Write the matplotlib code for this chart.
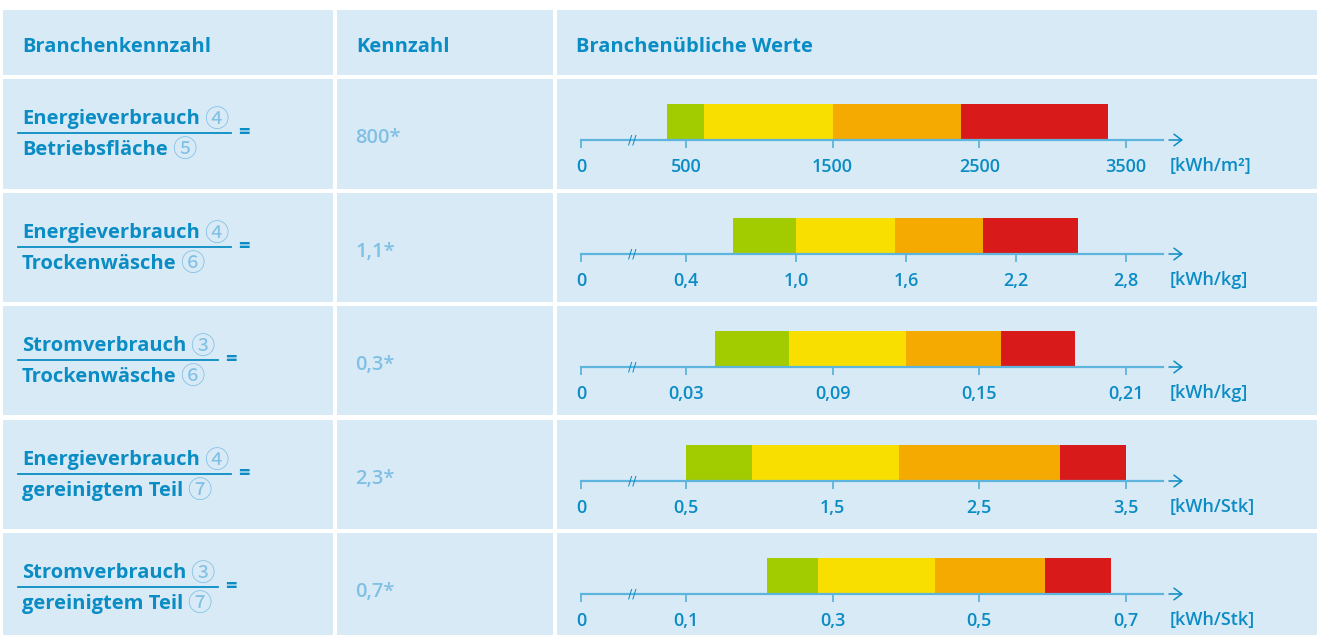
import matplotlib
matplotlib.use("Agg")
import matplotlib.pyplot as plt
from matplotlib.patches import Rectangle

plt.rcParams['font.family'] = ['Open Sans', 'DejaVu Sans']

# --- data -------------------------------------------------------------
headers = ["Branchenkennzahl", "Kennzahl", "Branchenübliche Werte"]
numerators = ["Energieverbrauch", "Energieverbrauch", "Stromverbrauch",
              "Energieverbrauch", "Stromverbrauch"]
numerator_refs = ["④", "④", "③", "④", "③"]
denominators = ["Betriebsfläche", "Trockenwäsche", "Trockenwäsche",
                "gereinigtem Teil", "gereinigtem Teil"]
denominator_refs = ["⑤", "⑥", "⑥", "⑦", "⑦"]
kennzahlen = ["800*", "1,1*", "0,3*", "2,3*", "0,7*"]
units = ["[kWh/m²]", "[kWh/kg]", "[kWh/kg]", "[kWh/Stk]", "[kWh/Stk]"]

tick_values = [
    [500, 1500, 2500, 3500],
    [0.4, 1.0, 1.6, 2.2, 2.8],
    [0.03, 0.09, 0.15, 0.21],
    [0.5, 1.5, 2.5, 3.5],
    [0.1, 0.3, 0.5, 0.7],
]
tick_labels = [
    ["500", "1500", "2500", "3500"],
    ["0,4", "1,0", "1,6", "2,2", "2,8"],
    ["0,03", "0,09", "0,15", "0,21"],
    ["0,5", "1,5", "2,5", "3,5"],
    ["0,1", "0,3", "0,5", "0,7"],
]
# band edges: start, end green, end yellow, end orange, end red
bands = [
    [370, 620, 1500, 2375, 3380],
    [0.655, 1.0, 1.54, 2.02, 2.54],
    [0.042, 0.072, 0.12, 0.159, 0.189],
    [0.5, 0.95, 1.95, 3.05, 3.5],
    [0.21, 0.28, 0.44, 0.59, 0.68],
]
band_colors = ["#a2cb00", "#f9df00", "#f4aa00", "#d91a1a"]

# --- style ------------------------------------------------------------
W, H = 1317, 635
cell_bg = "#d9eaf7"
blue = "#0a8cc4"
light = "#80c0e4"
axis_col = "#5db4dc"
fs = 14.5
circ_font = ["Noto Sans CJK JP", "DejaVu Sans"]

cols = [(3, 333), (337, 553), (557, 1317)]
header_y = (10, 75)
row_tops = [79, 193, 306, 420, 533]
row_bottoms = [189, 302, 415, 529, 635]

fig = plt.figure(figsize=(W / 100, H / 100), dpi=100)
fig.patch.set_facecolor("white")
base = fig.add_axes([0, 0, 1, 1])
base.set_xlim(0, W)
base.set_ylim(H, 0)
base.axis("off")

# cells
for y0, y1 in [header_y] + list(zip(row_tops, row_bottoms)):
    for x0, x1 in cols:
        base.add_patch(Rectangle((x0, y0), x1 - x0, y1 - y0, color=cell_bg, lw=0))

# header
for (x0, _), h in zip(cols, headers):
    base.text(x0 + 19, 52, h, fontsize=fs, fontweight="bold", color=blue,
              va="baseline")

renderer = fig.canvas.get_renderer()

for r, top in enumerate(row_tops):
    t1 = base.text(22, top + 45, numerators[r], fontsize=fs, fontweight="bold",
                   color=blue, va="baseline")
    t2 = base.text(22, top + 76, denominators[r], fontsize=fs, fontweight="bold",
                   color=blue, va="baseline")
    e1 = t1.get_window_extent(renderer).x1
    e2 = t2.get_window_extent(renderer).x1
    c1 = base.text(e1 + 4, top + 41, numerator_refs[r], fontsize=17.5, color=light,
                   va="center", family=circ_font)
    c2 = base.text(e2 + 4, top + 71, denominator_refs[r], fontsize=17.5, color=light,
                   va="center", family=circ_font)
    end = max(c1.get_window_extent(renderer).x1, c2.get_window_extent(renderer).x1)
    base.plot([18, end + 3], [top + 54, top + 54], color=blue, lw=1.3)
    base.text(end + 10, top + 54, "=", fontsize=fs, fontweight="bold", color=blue,
              va="center")
    base.text(355, top + 64, kennzahlen[r], fontsize=fs, fontweight="semibold",
              color=light, va="baseline")

    # bar chart in third column
    ax = fig.add_axes([557 / W, 1 - (top + 61) / H, 760 / W, 61 / H])
    ax.patch.set_alpha(0)
    tv = tick_values[r]
    first, last = tv[0], tv[-1]
    s = (last - first) / 440.0
    ax.set_xlim(first - 129 * s, last + 191 * s)
    ax.set_ylim(61, 0)
    b = bands[r]
    for i, c in enumerate(band_colors):
        ax.barh(43, b[i + 1] - b[i], left=b[i], height=36, color=c, lw=0, zorder=1)
    for sp in ["top", "left", "right"]:
        ax.spines[sp].set_visible(False)
    zero = first - 105 * s
    ax.spines["bottom"].set_bounds(zero, last + 37 * s)
    ax.spines["bottom"].set_color(axis_col)
    ax.spines["bottom"].set_linewidth(1.6)
    ax.spines["bottom"].set_zorder(3)
    ax.set_yticks([])
    ax.set_xticks([zero] + tv, ["0"] + tick_labels[r])
    ax.tick_params(axis="x", direction="out", length=6, width=1.3, color=axis_col,
                   labelcolor=blue, labelsize=13, pad=7)
    for lab in ax.get_xticklabels():
        lab.set_fontweight("semibold")
    ax.text(first - 54 * s, 61, "//", fontsize=9, color=blue, ha="center",
            va="center", clip_on=False, zorder=4, family=["DejaVu Sans"])
    ax.annotate("", xy=(last + 57 * s, 61), xytext=(last + 43 * s, 61),
                arrowprops=dict(arrowstyle="->,head_length=0.4,head_width=0.3",
                                color=blue, lw=1.1, mutation_scale=14,
                                shrinkA=0, shrinkB=0),
                annotation_clip=False)
    ax.text(last + 44 * s, 87, units[r], fontsize=13, fontweight="semibold",
            color=blue, va="center", clip_on=False)

fig.savefig("out.png", dpi=100, facecolor="white")
